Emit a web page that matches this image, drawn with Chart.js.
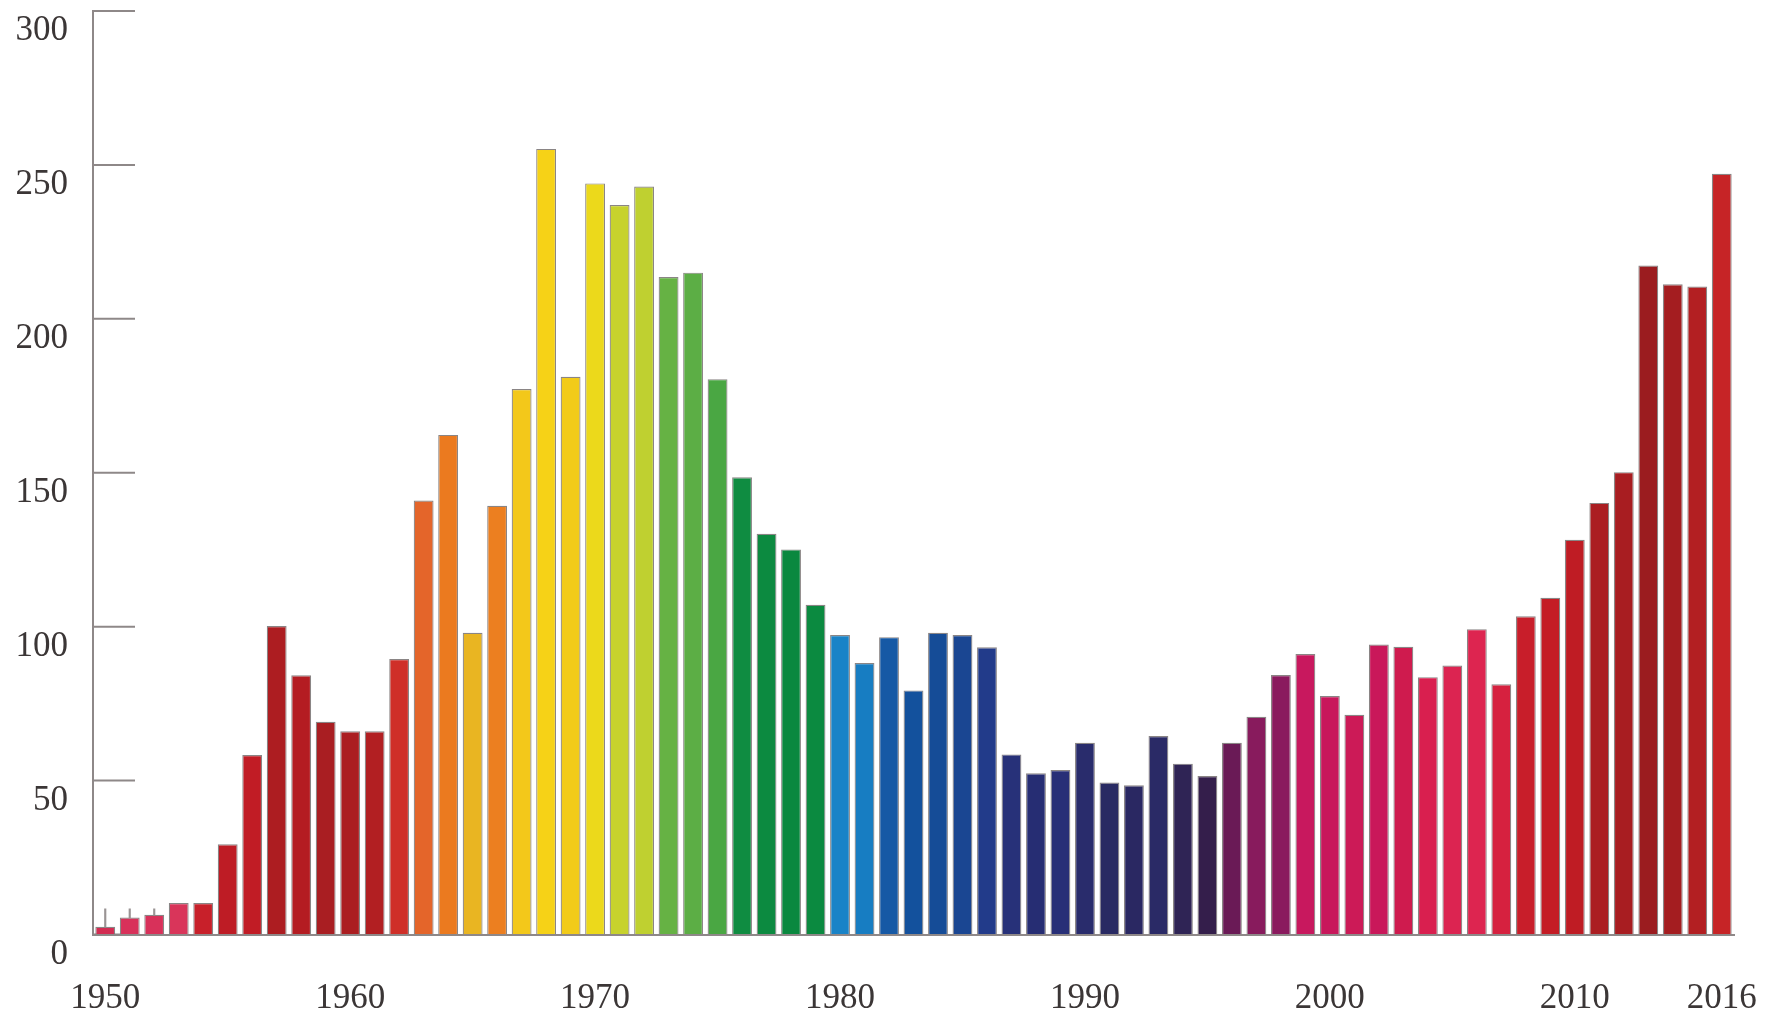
<!DOCTYPE html>
<html>
<head>
<meta charset="utf-8">
<script src="https://cdn.jsdelivr.net/npm/chart.js@4.4.1/dist/chart.umd.min.js"></script>
<style>
  html, body { margin: 0; padding: 0; background: #ffffff; }
  #wrap { width: 1768px; height: 1016px; }
</style>
</head>
<body>
<div id="wrap"><canvas id="c" width="1768" height="1016"></canvas></div>
<script>
// ---- data ----
const years = [1950,1951,1952,1953,1954,1955,1956,1957,1958,1959,
               1960,1961,1962,1963,1964,1965,1966,1967,1968,1969,
               1970,1971,1972,1973,1974,1975,1976,1977,1978,1979,
               1980,1981,1982,1983,1984,1985,1986,1987,1988,1989,
               1990,1991,1992,1993,1994,1995,1996,1997,1998,1999,
               2000,2001,2002,2003,2004,2005,2006,2007,2008,2009,
               2010,2011,2012,2013,2014,2015,2016];

const counts = [2.5, 5.5, 6.4, 10.2, 10.2, 29.3, 58.3, 100.2, 84.2, 69.1,
                66.0, 66.0, 89.5, 141.0, 162.3, 98.0, 139.3, 177.2, 255.2, 181.2,
                244.0, 237.0, 243.0, 213.6, 215.0, 180.4, 148.5, 130.2, 125.1, 107.1,
                97.3, 88.2, 96.6, 79.3, 98.0, 97.3, 93.3, 58.5, 52.4, 53.4,
                62.3, 49.4, 48.5, 64.5, 55.5, 51.5, 62.3, 70.7, 84.3, 91.1,
                77.5, 71.4, 94.2, 93.5, 83.6, 87.4, 99.2, 81.3, 103.4, 109.4,
                128.2, 140.2, 150.2, 217.3, 211.2, 210.5, 247.1];

// small vertical marks above the first three bars
const markTops = [8.3, 8.3, 8.3];

const barColors = ['#d32c52','#d8315a','#d8315a','#d9355a','#c8202a','#be1c25','#c11c25','#ad1d21','#b41c22','#a91e22',
                   '#ab1e21','#b21f22','#cf2f28','#e4652a','#eb7a1f','#e9b522','#ec7f20','#f3c81a','#f6d217','#f2cb19',
                   '#ecd91b','#c7d22d','#bfd030','#66b244','#5cae45','#4aa743','#0f8c41','#0c8a40','#0a883f','#0b8a40',
                   '#1983c7','#177dc2','#1659a5','#13519d','#154c97','#1a4692','#223b8a','#273179','#262d73','#282f77',
                   '#292c6c','#292a63','#2a2862','#2a2a66','#2f2455','#341e4b','#6a1a56','#881b5d','#8a1a5e','#c8185e',
                   '#c8175b','#cc1a57','#c9185a','#cf1b4e','#d91f4f','#dc2451','#dd2550','#d6213f','#c81e2a','#c41c25',
                   '#bf1c24','#ab1e22','#a81d21','#9b1c1f','#a41d20','#b31f22','#c62426'];

const yTickValues = [0, 50, 100, 150, 200, 250, 300];
const xLabelYears = [1950, 1960, 1970, 1980, 1990, 2000, 2010, 2016];

// ---- styles ----
const axisColor = '#8e8888';
const textColor = '#3b3636';
const fontFamily = '"Liberation Serif", "Times New Roman", serif';

const innerTicks = {
  id: 'innerTicks',
  beforeDatasetsDraw(chart) {
    const ys = chart.scales.y;
    const ctx = chart.ctx;
    const left = chart.chartArea.left;
    ctx.save();
    ctx.strokeStyle = axisColor;
    ctx.lineWidth = 2;
    yTickValues.forEach(v => {
      const py = ys.getPixelForValue(v);
      ctx.beginPath();
      ctx.moveTo(left, py);
      ctx.lineTo(left + 42, py);
      ctx.stroke();
    });
    ctx.restore();
  }
};

const markData = counts.map((v, i) => (markTops[i] !== undefined ? [v, markTops[i]] : null));

new Chart(document.getElementById('c'), {
  type: 'bar',
  data: {
    labels: years.map(String),
    datasets: [
      {
        data: counts,
        backgroundColor: barColors,
        borderColor: 'rgba(118,112,112,0.85)',
        borderWidth: 1.2,
        categoryPercentage: 1.0,
        barPercentage: 0.81,
        grouped: false,
        order: 2
      },
      {
        data: markData,
        backgroundColor: '#9a9494',
        borderWidth: 0,
        barThickness: 1.5,
        grouped: false,
        order: 1
      }
    ]
  },
  options: {
    responsive: false,
    animation: false,
    devicePixelRatio: 1,
    layout: { padding: { top: 11, right: 34, bottom: 0, left: 0 } },
    plugins: { legend: { display: false }, tooltip: { enabled: false } },
    scales: {
      x: {
        type: 'category',
        offset: true,
        grid: { display: true, drawOnChartArea: false, drawTicks: true, tickLength: 47, tickColor: 'rgba(0,0,0,0)' },
        border: { display: true, color: axisColor, width: 2 },
        ticks: {
          autoSkip: false,
          maxRotation: 0,
          minRotation: 0,
          padding: 0,
          color: textColor,
          font: { family: fontFamily, size: 35, lineHeight: 1 },
          callback: function (val, idx) {
            return xLabelYears.includes(years[idx]) ? String(years[idx]) : '';
          }
        },
        afterFit: function (scale) { scale.height = 81.5; }
      },
      y: {
        min: 0,
        max: 300,
        grid: { display: true, drawOnChartArea: false, drawTicks: true, tickLength: 25, tickColor: 'rgba(0,0,0,0)' },
        border: { display: true, color: axisColor, width: 2 },
        afterBuildTicks: function (scale) { scale.ticks = yTickValues.map(v => ({ value: v })); },
        ticks: {
          padding: 0,
          labelOffset: 20,
          color: textColor,
          font: { family: fontFamily, size: 35, lineHeight: 0.6 }
        },
        afterFit: function (scale) { scale.width = 93; }
      }
    }
  },
  plugins: [innerTicks]
});
</script>
</body>
</html>
